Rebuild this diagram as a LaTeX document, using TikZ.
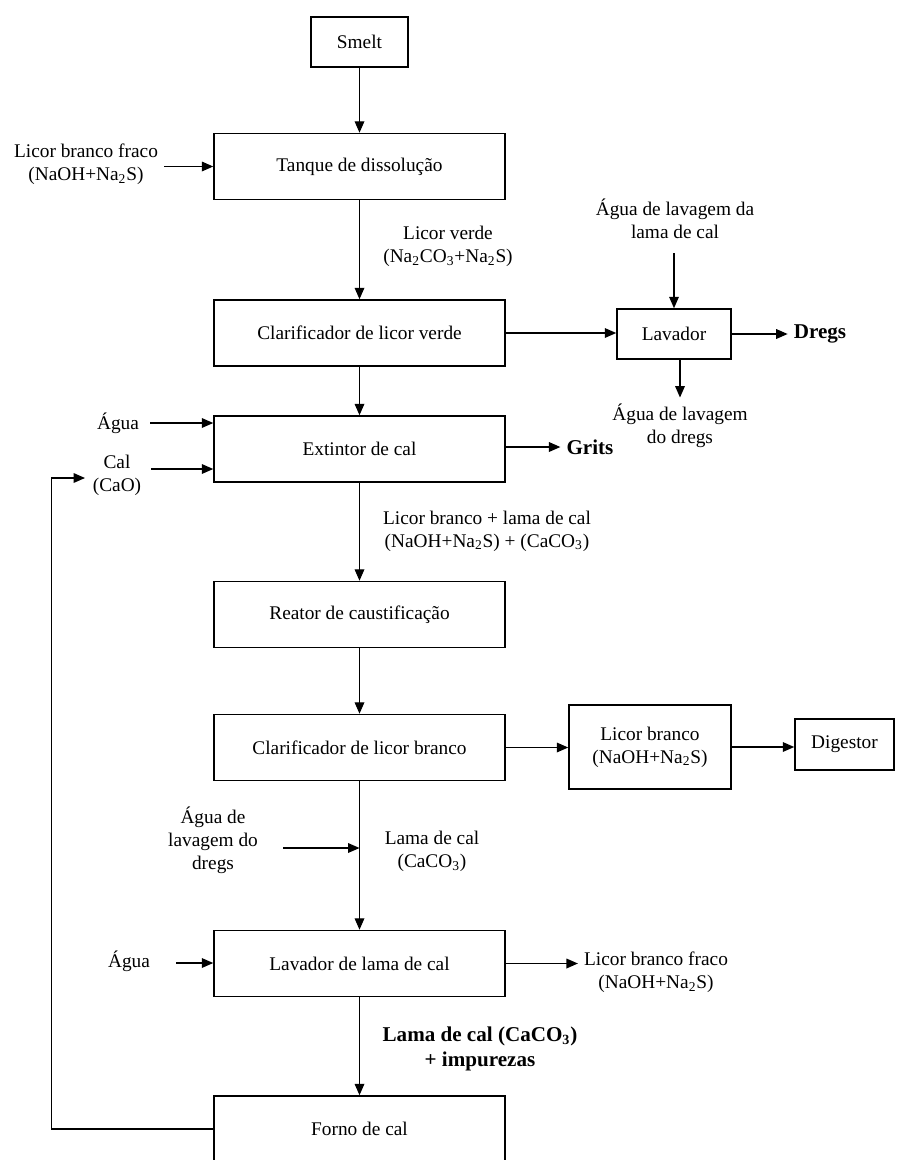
\documentclass[tikz,border=0pt]{standalone}
\usepackage{fontspec}
\setmainfont{Liberation Serif}
\usepackage{tikz}
\usetikzlibrary{positioning, arrows.meta}
\newcommand{\sub}[1]{\textsubscript{#1}}

\begin{document}
\begin{tikzpicture}[
    x=0.02cm, y=-0.02cm,
    unitbox/.style={draw, line width=0.9pt, fill=white, align=center,
                    minimum width=5.82cm, minimum height=1.32cm, inner sep=2pt,
                    font=\fontsize{11}{13}\selectfont},
    sidebox/.style={draw, line width=0.9pt, fill=white, align=center,
                    inner sep=2pt, font=\fontsize{11}{13}\selectfont},
    stream/.style={align=center, font=\fontsize{11}{13}\selectfont},
    bstream/.style={align=center, font=\fontsize{12}{14.5}\selectfont\bfseries},
    flow/.style={-{Triangle[length=6.5pt, width=5.5pt]}, line width=0.7pt},
]
\useasboundingbox (0,0) rectangle (897,1160);

% --- Main column (centre x = 359.5) ---
\node[sidebox, minimum width=1.94cm, minimum height=1.0cm] (smelt) at (359.5, 42) {Smelt};
\node[unitbox] (tanque)     at (359.5, 166.5) {Tanque de dissolução};
\node[unitbox] (clarverde)  at (359.5, 333)   {Clarificador de licor verde};
\node[unitbox] (extintor)   at (359.5, 449)   {Extintor de cal};
\node[unitbox] (reator)     at (359.5, 614.5) {Reator de caustificação};
\node[unitbox] (clarbranco) at (359.5, 747.5) {Clarificador de licor branco};
\node[unitbox] (lavlama)    at (359.5, 963.5) {Lavador de lama de cal};
\node[unitbox] (forno)      at (359.5, 1129)  {Forno de cal};

% --- Side units ---
\node[sidebox, minimum width=2.28cm, minimum height=1.0cm]  (lavador)   at (674, 334)    {Lavador};
\node[sidebox, minimum width=3.24cm, minimum height=1.68cm] (licorbox)  at (650, 747)    {Licor branco\\(NaOH+Na\sub{2}S)};
\node[sidebox, minimum width=1.98cm, minimum height=1.02cm] (digestor)  at (844.5, 744.5) {Digestor};

% --- Stream labels ---
\node[stream] (lbfin)    at (86, 164.5)  {Licor branco fraco\\(NaOH+Na\sub{2}S)};
\node[stream] (lverde)   at (448, 246.5) {Licor verde\\(Na\sub{2}CO\sub{3}+Na\sub{2}S)};
\node[stream] (agualama) at (675, 218.5) {Água de lavagem da\\lama de cal};
\node[bstream] (dregs)   at (820, 334)   {Dregs};
\node[stream] (aguadregs) at (680, 425.5) {Água de lavagem\\do dregs};
\node[bstream] (grits)   at (590, 447)   {Grits};
\node[stream] (agua1)    at (118, 423)   {Água};
\node[stream] (cal)      at (117, 475)   {Cal\\(CaO)};
\node[stream] (lbmix)    at (487, 531)   {Licor branco + lama de cal\\(NaOH+Na\sub{2}S) + (CaCO\sub{3})};
\node[stream] (dregsw)   at (213, 840.5) {Água de\\lavagem do\\dregs};
\node[stream] (lamacal)  at (432, 851.5) {Lama de cal\\(CaCO\sub{3})};
\node[stream] (agua2)    at (129, 961)   {Água};
\node[stream] (lbfout)   at (656, 972.5) {Licor branco fraco\\(NaOH+Na\sub{2}S)};
\node[bstream] (lamaimp) at (480, 1049)  {Lama de cal (CaCO\sub{3})\\+ impurezas};

% free ends
\coordinate (calin)   at (151, 469);
\coordinate (dregsin) at (283, 848);
\coordinate (agua2in) at (176, 963);
\coordinate (loopend) at (85, 478);

% --- Main flow ---
\draw[flow] (smelt) -- (tanque);
\draw[flow] (tanque) -- (clarverde);
\draw[flow] (clarverde) -- (extintor);
\draw[flow] (extintor) -- (reator);
\draw[flow] (reator) -- (clarbranco);
\draw[flow] (clarbranco) -- (lavlama);
\draw[flow] (lavlama) -- (forno);

% --- Side flows ---
\draw[flow] (tanque.west -| lbfin.east) -- (tanque.west);
\draw[flow] (clarverde.east) -- (clarverde.east -| lavador.west);
\draw[flow, shorten <=5pt] (agualama.south -| lavador.north) -- (lavador.north);
\draw[flow] (lavador.east) -- (dregs.west);
\draw[flow] (lavador.south -| aguadregs.north) -- (aguadregs.north);
\draw[flow] (extintor.east |- grits.west) -- (grits.west);
\draw[flow, shorten <=3pt] (agua1.east) -- (agua1.east -| extintor.west);
\draw[flow] (calin) -- (calin -| extintor.west);
\draw[flow] (clarbranco.east) -- (clarbranco.east -| licorbox.west);
\draw[flow] (licorbox.east) -- (licorbox.east -| digestor.west);
\draw[flow] (dregsin) -- (dregsin -| clarbranco.south);
\draw[flow] (agua2in) -- (agua2in -| lavlama.west);
\draw[flow] (lavlama.east) -- (lavlama.east -| lbfout.west);

% --- Lime return loop ---
\draw[flow] (forno.west) -- ++(-161.5, 0) |- (loopend);

\end{tikzpicture}
\end{document}
